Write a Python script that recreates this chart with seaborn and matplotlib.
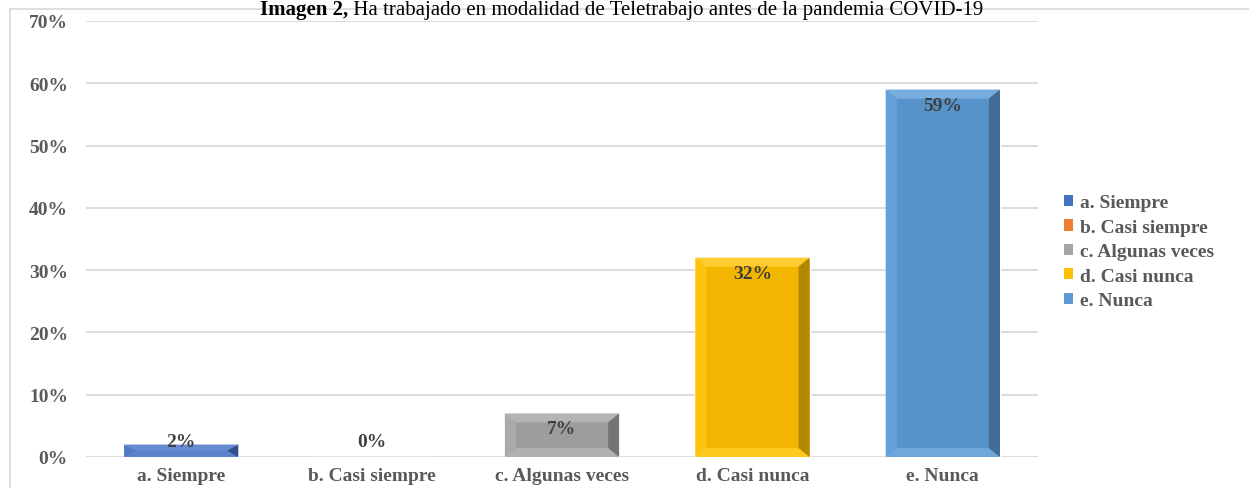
import numpy as np
import pandas as pd
import matplotlib
matplotlib.use("Agg")
import matplotlib.pyplot as plt
from matplotlib.patches import Polygon, Patch, Rectangle
from matplotlib.colors import to_rgb
import seaborn as sns

# Survey answers and their shares (%)
categories = ["a. Siempre", "b. Casi siempre", "c. Algunas veces", "d. Casi nunca", "e. Nunca"]
values = [2, 0, 7, 32, 59]
value_labels = ["2%", "0%", "7%", "32%", "59%"]
palette = ["#4472C4", "#ED7D31", "#A5A5A5", "#FFC000", "#5B9BD5"]
y_ticks = [0, 10, 20, 30, 40, 50, 60, 70]
y_tick_labels = ["0%", "10%", "20%", "30%", "40%", "50%", "60%", "70%"]
title_bold = "Imagen 2,"
title_rest = " Ha trabajado en modalidad de Teletrabajo antes de la pandemia COVID-19"

sns.set_theme(style="white")
plt.rcParams["font.family"] = ["Liberation Serif", "DejaVu Serif"]

W, H = 1249, 489
fig = plt.figure(figsize=(W / 100, H / 100), dpi=100)
ax = fig.add_axes([86 / W, (H - 458) / H, (1038 - 86) / W, (458 - 22) / H])

df = pd.DataFrame({"cat": categories, "val": values})
sns.barplot(data=df, x="cat", y="val", hue="cat", palette=palette,
            width=0.6, dodge=False, legend=False, ax=ax, saturation=1)

ax.set_ylim(0, 70)
ax.set_xlim(-0.5, len(categories) - 0.5)
ax.set_yticks(y_ticks)
ax.set_yticklabels(y_tick_labels)
ax.set_xlabel("")
ax.set_ylabel("")
ax.yaxis.grid(True, color="#D9D9D9", linewidth=1.3)
ax.set_axisbelow(True)
for s in ax.spines.values():
    s.set_visible(False)
ax.tick_params(axis="both", length=0, colors="#595959", labelsize=14)
ax.tick_params(axis="y", pad=13)
ax.tick_params(axis="x", pad=7)
for lbl in ax.get_xticklabels() + ax.get_yticklabels():
    lbl.set_fontweight("bold")


def mix(c, f):
    """Lighten (f>0, toward white) or darken (f<0, toward black)."""
    r = np.array(to_rgb(c))
    if f >= 0:
        return tuple(r + (1 - r) * f)
    return tuple(r * (1 + f))


# Bevelled faces on each bar
fig.canvas.draw()
px_per_x = ax.get_window_extent().width / (ax.get_xlim()[1] - ax.get_xlim()[0])
px_per_y = ax.get_window_extent().height / (ax.get_ylim()[1] - ax.get_ylim()[0])
bev_x = 11 / px_per_x
bev_y_full = 9 / px_per_y

bars = [p for p in ax.patches if isinstance(p, Rectangle)]
for bar in bars:
    x0, y0 = bar.get_x(), bar.get_y()
    w, h = bar.get_width(), bar.get_height()
    if h <= 0:
        continue
    c = bar.get_facecolor()
    x1, y1 = x0 + w, y0 + h
    by = min(bev_y_full, h / 2)
    bx = bev_x
    ix0, ix1, iy0, iy1 = x0 + bx, x1 - bx, y0 + by, y1 - by
    faces = [
        ([(ix0, iy0), (ix1, iy0), (ix1, iy1), (ix0, iy1)], mix(c, -0.05)),
        ([(x0, y1), (x1, y1), (ix1, iy1), (ix0, iy1)], mix(c, 0.18)),
        ([(x0, y0), (x1, y0), (ix1, iy0), (ix0, iy0)], mix(c, 0.12)),
        ([(x0, y0), (ix0, iy0), (ix0, iy1), (x0, y1)], mix(c, 0.06)),
        ([(x1, y0), (ix1, iy0), (ix1, iy1), (x1, y1)], mix(c, -0.30)),
    ]
    for pts, fc in faces:
        ax.add_patch(Polygon(pts, closed=True, facecolor=fc, edgecolor="none", zorder=3))

# Value labels near the top of each bar
for i, (v, t) in enumerate(zip(values, value_labels)):
    ax.text(i, max(v - 2.5, 2.5), t, ha="center", va="center",
            fontsize=14, fontweight="bold", color="#404040", zorder=5)

# Legend
handles = [Patch(facecolor=palette[i], edgecolor="none", label=categories[i])
           for i in range(len(categories))]
leg = fig.legend(handles=handles, loc="upper left",
                 bbox_to_anchor=(1046 / W, (H - 178) / H),
                 frameon=False, handlelength=0.5, handleheight=0.5,
                 handletextpad=0.35, labelspacing=0.38,
                 prop={"weight": "bold", "size": 14})
for t in leg.get_texts():
    t.set_color("#595959")

# Chart frame (top and left edges)
frame = Rectangle((10 / W, -0.5), 1.5, (H - 10) / H + 0.5, transform=fig.transFigure,
                  facecolor="none", edgecolor="#D9D9D9", linewidth=1.2, zorder=0)
fig.patches.append(frame)

# Title: bold lead-in followed by regular text
r = fig.canvas.get_renderer()
tb = fig.text(0, (H - 15) / H, title_bold, fontsize=15, fontweight="bold",
              va="baseline", ha="left", color="black")
tr = fig.text(0, (H - 15) / H, title_rest, fontsize=15, va="baseline",
              ha="left", color="black")
wb = tb.get_window_extent(r).width
wr = tr.get_window_extent(r).width
start = 622 - (wb + wr) / 2
tb.set_x(start / W)
tr.set_x((start + wb) / W)

fig.savefig("out.png", dpi=100, facecolor="white")
